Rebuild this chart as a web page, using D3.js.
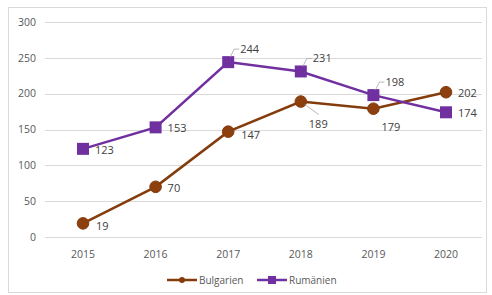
<!DOCTYPE html>
<html>
<head>
<meta charset="utf-8">
<script src="https://cdn.jsdelivr.net/npm/d3@7"></script>
<style>
    body { margin: 0; background: #fff; }
    text { font-family: "Open Sans", "Liberation Sans", sans-serif; }
</style>
</head>
<body>
<div id="chart"></div>
<script>
const years = ["2015", "2016", "2017", "2018", "2019", "2020"];
const bulgarien = [19, 70, 147, 189, 179, 202];
const rumaenien = [123, 153, 244, 231, 198, 174];
const yTicks = [0, 50, 100, 150, 200, 250, 300];

// label placement per point
const bulgarienLabelPos = ["rightLow", "right", "rightLow", "leaderDown", "below", "right"];
const rumaenienLabelPos = ["right", "right", "leaderUp", "leaderUp", "leaderUp", "right"];

const W = 492, H = 295;
const margin = {top: 22, right: 10, bottom: 58, left: 45};

const svg = d3.select("#chart").append("svg")
    .attr("width", W)
    .attr("height", H);

svg.append("rect")
    .attr("x", 8.5).attr("y", 7.5)
    .attr("width", 478).attr("height", 285)
    .attr("fill", "#fff")
    .attr("stroke", "#d9d9d9");

const x = d3.scalePoint()
    .domain(years)
    .range([margin.left + 38, W - margin.right - 36]);

const y = d3.scaleLinear()
    .domain([0, 300])
    .range([H - margin.bottom, margin.top]);

// gridlines
svg.append("g")
    .selectAll("line")
    .data(yTicks)
    .join("line")
    .attr("x1", margin.left)
    .attr("x2", W - margin.right)
    .attr("y1", d => Math.round(y(d)) + 0.5)
    .attr("y2", d => Math.round(y(d)) + 0.5)
    .attr("stroke", "#d9d9d9")
    .attr("stroke-width", 1);

// y axis labels
svg.append("g")
    .selectAll("text")
    .data(yTicks)
    .join("text")
    .attr("x", 36)
    .attr("y", d => y(d))
    .attr("dy", "0.35em")
    .attr("text-anchor", "end")
    .attr("font-size", 10.5)
    .attr("fill", "#595959")
    .text(d => d);

// x axis labels
svg.append("g")
    .selectAll("text")
    .data(years)
    .join("text")
    .attr("x", d => x(d))
    .attr("y", 258)
    .attr("text-anchor", "middle")
    .attr("font-size", 10.5)
    .attr("fill", "#595959")
    .text(d => d);

const series = [
    {name: "Bulgarien", values: bulgarien, color: "#843C0C", fill: "#8E3F0E", marker: "circle", pos: bulgarienLabelPos},
    {name: "Rumänien", values: rumaenien, color: "#7030A0", fill: "#7030A0", marker: "square", pos: rumaenienLabelPos}
];

const line = d3.line()
    .x((d, i) => x(years[i]))
    .y(d => y(d));

series.forEach(s => {
    const g = svg.append("g");

    g.append("path")
        .datum(s.values)
        .attr("fill", "none")
        .attr("stroke", s.color)
        .attr("stroke-width", 2.5)
        .attr("d", line);

    const pts = s.values.map((v, i) => ({v, cx: x(years[i]), cy: y(v), pos: s.pos[i]}));

    if (s.marker === "circle") {
        g.selectAll("circle")
            .data(pts)
            .join("circle")
            .attr("cx", d => d.cx)
            .attr("cy", d => d.cy)
            .attr("r", 5.8)
            .attr("fill", s.fill)
            .attr("stroke", s.color)
            .attr("stroke-width", 1);
    } else {
        g.selectAll("rect")
            .data(pts)
            .join("rect")
            .attr("x", d => d.cx - 6)
            .attr("y", d => d.cy - 6)
            .attr("width", 12)
            .attr("height", 12)
            .attr("fill", s.fill);
    }

    // data labels
    pts.forEach(d => {
        let tx, ty;
        if (d.pos === "right") { tx = d.cx + 12; ty = d.cy + 1; }
        else if (d.pos === "rightLow") { tx = d.cx + 13; ty = d.cy + 3; }
        else if (d.pos === "below") { tx = d.cx + 8; ty = d.cy + 18; }
        else if (d.pos === "leaderUp") {
            tx = d.cx + 12; ty = d.cy - 13;
            g.append("path")
                .attr("d", `M${d.cx + 2},${d.cy - 5}L${d.cx + 6},${ty}L${tx - 1},${ty}`)
                .attr("fill", "none")
                .attr("stroke", "#a6a6a6")
                .attr("stroke-width", 0.8);
        } else if (d.pos === "leaderDown") {
            tx = d.cx + 8; ty = d.cy + 23;
            g.append("line")
                .attr("x1", d.cx + 4).attr("y1", d.cy + 3)
                .attr("x2", d.cx + 18).attr("y2", d.cy + 13)
                .attr("stroke", "#a6a6a6")
                .attr("stroke-width", 0.8);
        }
        g.append("text")
            .attr("x", tx)
            .attr("y", ty)
            .attr("dy", "0.35em")
            .attr("font-size", 11)
            .attr("fill", "#404040")
            .text(d.v);
    });
});

// legend
const legend = svg.append("g");
const legendItems = [
    {name: "Bulgarien", x0: 167, color: "#843C0C", marker: "circle"},
    {name: "Rumänien", x0: 257, color: "#7030A0", marker: "square"}
];
legendItems.forEach(it => {
    const ly = 280;
    legend.append("line")
        .attr("x1", it.x0).attr("x2", it.x0 + 30)
        .attr("y1", ly).attr("y2", ly)
        .attr("stroke", it.color)
        .attr("stroke-width", 2.5);
    if (it.marker === "circle") {
        legend.append("circle")
            .attr("cx", it.x0 + 15).attr("cy", ly).attr("r", 3)
            .attr("fill", it.color);
    } else {
        legend.append("rect")
            .attr("x", it.x0 + 11).attr("y", ly - 4)
            .attr("width", 8).attr("height", 8)
            .attr("fill", it.color);
    }
    legend.append("text")
        .attr("x", it.x0 + 32)
        .attr("y", ly)
        .attr("dy", "0.35em")
        .attr("font-size", 10)
        .attr("fill", "#595959")
        .text(it.name);
});
</script>
</body>
</html>
